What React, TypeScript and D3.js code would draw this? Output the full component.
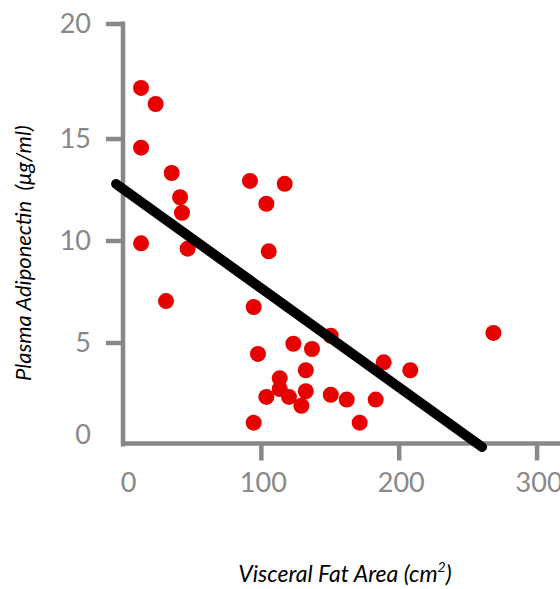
import React, { useEffect, useRef } from "react";
import * as d3 from "d3";

// Visceral fat area (cm2) vs plasma adiponectin (ug/ml)
const fatArea = [
  13.1, 23.7, 13.1, 35.3, 41.4, 42.8, 13.1, 46.9, 31.2, 92.1, 117.3, 104.0,
  105.7, 94.8, 150.7, 268.7, 123.6, 137.1, 97.9, 189.1, 208.4, 132.6, 113.7,
  113.7, 132.6, 104.0, 120.4, 150.7, 162.3, 183.3, 129.4, 94.8, 171.7,
];
const adiponectin = [
  17.2, 16.5, 14.55, 13.31, 12.12, 11.36, 9.86, 9.6, 7.03, 12.92, 12.78, 11.8,
  9.47, 6.74, 5.33, 5.47, 4.94, 4.68, 4.44, 4.03, 3.64, 3.64, 3.25, 2.72, 2.61,
  2.33, 2.33, 2.44, 2.2, 2.2, 1.9, 1.07, 1.07,
];
// regression line end points
const fitX = [-5, 260.5];
const fitY = [12.77, -0.12];

const xTicks = [0, 100, 200, 300];
const yTicks = [0, 5, 10, 15, 20];

const W = 560;
const H = 589;

const App = () => {
  const svgRef = useRef<SVGSVGElement>(null);

  useEffect(() => {
    const svg = d3.select(svgRef.current);
    svg.selectAll("*").remove();

    const x = d3.scaleLinear().domain([0, 317]).range([123, 560]);
    const y = d3.scaleLinear().domain([0, 15, 20]).range([444.5, 138.5, 23.5]);

    const gray = "#888888";
    const tickFont = "Lato, 'DejaVu Sans', sans-serif";

    // y axis
    const yAxis = svg
      .append("g")
      .attr("transform", `translate(${x(0)},0)`)
      .call(
        d3
          .axisLeft(y)
          .tickValues(yTicks)
          .tickSize(17)
          .tickSizeOuter(0)
          .tickPadding(15)
          .tickFormat(d3.format("d"))
      );
    yAxis.select(".domain").attr("stroke", gray).attr("stroke-width", 4.5)
      .attr("d", `M0,${y(0) + 2}V${y(20) - 2}`);
    yAxis.selectAll(".tick line").attr("stroke", gray).attr("stroke-width", 4.5);
    yAxis.selectAll(".tick").filter((d) => d === 0).select("line").remove();
    yAxis
      .selectAll(".tick text")
      .attr("fill", gray)
      .attr("font-family", tickFont)
      .attr("font-size", 27)
      .attr("dy", (d) => (d === 0 ? "-0.02em" : "0.34em"));

    // x axis
    const xAxis = svg
      .append("g")
      .attr("transform", `translate(0,${y(0) - 1})`)
      .call(
        d3
          .axisBottom(x)
          .tickValues(xTicks)
          .tickSize(17)
          .tickSizeOuter(0)
          .tickPadding(12)
          .tickFormat(d3.format("d"))
      );
    xAxis.select(".domain").attr("stroke", gray).attr("stroke-width", 4.5)
      .attr("d", `M${x(0) - 2},0H${W}`);
    xAxis.selectAll(".tick line").attr("stroke", gray).attr("stroke-width", 4.5);
    xAxis.selectAll(".tick").filter((d) => d === 0).select("line").remove();
    xAxis
      .selectAll(".tick text")
      .attr("fill", gray)
      .attr("font-family", tickFont)
      .attr("font-size", 27)
      .attr("dx", (d) => (d === 0 ? 5 : 2));

    // points
    svg
      .append("g")
      .selectAll("circle")
      .data(fatArea)
      .join("circle")
      .attr("cx", (d) => x(d))
      .attr("cy", (d, i) => y(adiponectin[i]))
      .attr("r", 8)
      .attr("fill", "#e60000");

    // regression line
    const line = d3
      .line<number>()
      .x((d) => x(d))
      .y((d, i) => y(fitY[i]));
    svg
      .append("path")
      .datum(fitX)
      .attr("d", line)
      .attr("fill", "none")
      .attr("stroke", "#000")
      .attr("stroke-width", 10)
      .attr("stroke-linecap", "round");

    // axis titles
    const xt = svg
      .append("text")
      .attr("x", 345)
      .attr("y", 582)
      .attr("text-anchor", "middle")
      .attr("font-family", "Lato, sans-serif")
      .attr("font-style", "italic")
      .attr("font-size", 23)
      .attr("fill", "#000");
    xt.append("tspan").text("Visceral Fat Area (cm");
    xt.append("tspan").text("2").attr("font-size", 14).attr("dy", -10);
    xt.append("tspan").text(")").attr("dy", 10);

    svg
      .append("text")
      .attr("transform", "translate(31,381) rotate(-90)")
      .attr("text-anchor", "start")
      .attr("font-family", "Lato, sans-serif")
      .attr("font-style", "italic")
      .attr("font-size", 22)
      .attr("fill", "#000")
      .attr("xml:space", "preserve")
      .style("white-space", "pre")
      .text("Plasma Adiponectin  (\u03bcg/ml)");
  }, []);

  return (
    <svg
      ref={svgRef}
      width={W}
      height={H}
      style={{ position: "absolute", left: 0, top: 0, background: "#fff" }}
    ></svg>
  );
};

export default App;
